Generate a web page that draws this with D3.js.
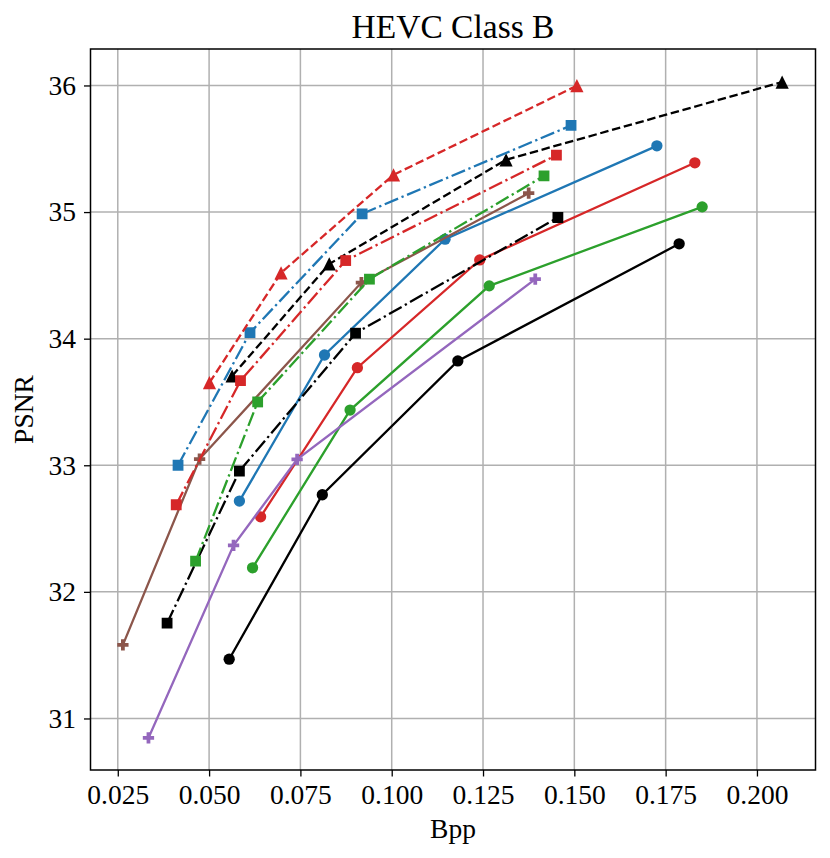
<!DOCTYPE html>
<html lang="en">
<head>
<meta charset="utf-8">
<title>HEVC Class B</title>
<script src="https://cdn.jsdelivr.net/npm/d3@7"></script>
<style>
  body { margin: 0; background: #fff; }
  text { font-family: "Liberation Serif", "Times New Roman", serif; fill: #000; }
</style>
</head>
<body>
<script>
// rate points (bpp) and quality (PSNR), one pair of arrays per curve
var bppRedTri   = [0.0501, 0.0697, 0.1005, 0.1507];
var psnrRedTri  = [33.652, 34.52, 35.294, 35.998];
var bppBlackTri  = [0.0563, 0.0829, 0.1313, 0.2069];
var psnrBlackTri = [33.705, 34.59, 35.413, 36.027];
var bppBlueSq   = [0.0415, 0.0612, 0.0919, 0.1491];
var psnrBlueSq  = [33.00, 34.047, 34.986, 35.684];
var bppRedSq    = [0.0410, 0.0586, 0.0874, 0.1451];
var psnrRedSq   = [32.688, 33.668, 34.617, 35.45];
var bppGreenSq  = [0.0463, 0.0633, 0.0939, 0.1417];
var psnrGreenSq = [32.243, 33.50, 34.47, 35.286];
var bppBlackSq  = [0.0385, 0.0583, 0.0901, 0.1455];
var psnrBlackSq = [31.753, 32.954, 34.043, 34.957];
var bppBrownP   = [0.0264, 0.0474, 0.0917, 0.1375];
var psnrBrownP  = [31.581, 33.049, 34.443, 35.149];
var bppPurpleP  = [0.0334, 0.0567, 0.0741, 0.1393];
var psnrPurpleP = [30.846, 32.367, 33.047, 34.47];
var bppBlueO    = [0.0583, 0.0816, 0.1146, 0.1726];
var psnrBlueO   = [32.717, 33.871, 34.786, 35.523];
var bppRedO     = [0.0641, 0.0906, 0.1241, 0.1830];
var psnrRedO    = [32.593, 33.771, 34.622, 35.389];
var bppGreenO   = [0.0619, 0.0886, 0.1267, 0.1850];
var psnrGreenO  = [32.19, 33.436, 34.417, 35.041];
var bppBlackO   = [0.0555, 0.0810, 0.1181, 0.1787];
var psnrBlackO  = [31.468, 32.767, 33.824, 34.749];

var xTicks = [0.025, 0.050, 0.075, 0.100, 0.125, 0.150, 0.175, 0.200];
var yTicks = [31, 32, 33, 34, 35, 36];

var series = [
  { x: bppBlackO,   y: psnrBlackO,   color: "#000000", dash: "solid",   marker: "circle" },
  { x: bppGreenO,   y: psnrGreenO,   color: "#2ca02c", dash: "solid",   marker: "circle" },
  { x: bppRedO,     y: psnrRedO,     color: "#d62728", dash: "solid",   marker: "circle" },
  { x: bppBlueO,    y: psnrBlueO,    color: "#1f77b4", dash: "solid",   marker: "circle" },
  { x: bppPurpleP,  y: psnrPurpleP,  color: "#9467bd", dash: "solid",   marker: "plus" },
  { x: bppBrownP,   y: psnrBrownP,   color: "#8c564b", dash: "solid",   marker: "plus" },
  { x: bppBlackSq,  y: psnrBlackSq,  color: "#000000", dash: "dashdot", marker: "square" },
  { x: bppGreenSq,  y: psnrGreenSq,  color: "#2ca02c", dash: "dashdot", marker: "square" },
  { x: bppBlackTri, y: psnrBlackTri, color: "#000000", dash: "dashed",  marker: "triangle" },
  { x: bppRedSq,    y: psnrRedSq,    color: "#d62728", dash: "dashdot", marker: "square" },
  { x: bppBlueSq,   y: psnrBlueSq,   color: "#1f77b4", dash: "dashdot", marker: "square" },
  { x: bppRedTri,   y: psnrRedTri,   color: "#d62728", dash: "dashed",  marker: "triangle" }
];

function drawChart() {
  var w = 830, h = 858;
  var mLeft = 90.5, mRight = 815.5, mTop = 49, mBottom = 770;
  var lw = 2.3;
  var dashes = { solid: null, dashed: "8.5,3.7", dashdot: "14.5,3.7,2.3,3.7" };

  var svg = d3.select("body").append("svg")
    .attr("width", w)
    .attr("height", h);

  var x = d3.scaleLinear().domain([0.01753, 0.21603]).range([mLeft, mRight]);
  var y = d3.scaleLinear().domain([30.593, 36.288]).range([mBottom, mTop]);

  // grid
  svg.append("g").selectAll("line")
    .data(xTicks).enter().append("line")
    .attr("x1", function(d){ return x(d); }).attr("x2", function(d){ return x(d); })
    .attr("y1", mTop).attr("y2", mBottom)
    .attr("stroke", "#b0b0b0").attr("stroke-width", 1.5);
  svg.append("g").selectAll("line")
    .data(yTicks).enter().append("line")
    .attr("y1", function(d){ return y(d); }).attr("y2", function(d){ return y(d); })
    .attr("x1", mLeft).attr("x2", mRight)
    .attr("stroke", "#b0b0b0").attr("stroke-width", 1.5);

  // clip lines to the axes box
  svg.append("clipPath").attr("id", "plotclip")
    .append("rect").attr("x", mLeft).attr("y", mTop)
    .attr("width", mRight - mLeft).attr("height", mBottom - mTop);

  var line = d3.line()
    .x(function(d){ return x(d[0]); })
    .y(function(d){ return y(d[1]); });

  function markerPath(kind) {
    var s = 11.3, r = s / 2;
    if (kind === "circle") {
      var p = d3.path(); p.arc(0, 0, r, 0, 2 * Math.PI); p.closePath();
      return p.toString();
    }
    if (kind === "square") {
      var q = 5.4;
      return "M" + (-q) + "," + (-q) + "H" + q + "V" + q + "H" + (-q) + "Z";
    }
    if (kind === "triangle") {
      var t = 6.6;
      return "M0," + (-t) + "L" + t + "," + t + "L" + (-t) + "," + t + "Z";
    }
    // filled plus, arms one third of the size
    var a = s / 6, b = s / 2;
    return "M" + (-a) + "," + (-b) + "H" + a + "V" + (-a) + "H" + b + "V" + a + "H" + a +
           "V" + b + "H" + (-a) + "V" + a + "H" + (-b) + "V" + (-a) + "H" + (-a) + "Z";
  }

  var plot = svg.append("g").attr("clip-path", "url(#plotclip)");

  series.forEach(function(s) {
    var pts = s.x.map(function(v, i){ return [v, s.y[i]]; });
    var g = plot.append("g");
    g.append("path")
      .datum(pts)
      .attr("d", line)
      .attr("fill", "none")
      .attr("stroke", s.color)
      .attr("stroke-width", lw)
      .attr("stroke-dasharray", dashes[s.dash]);
    g.selectAll("path.mk")
      .data(pts).enter().append("path")
      .attr("class", "mk")
      .attr("transform", function(d){ return "translate(" + x(d[0]) + "," + y(d[1]) + ")"; })
      .attr("d", markerPath(s.marker))
      .attr("fill", s.color);
  });

  // frame
  svg.append("rect")
    .attr("x", mLeft).attr("y", mTop)
    .attr("width", mRight - mLeft).attr("height", mBottom - mTop)
    .attr("fill", "none").attr("stroke", "#000").attr("stroke-width", 1.5);

  // x axis
  var xAxis = d3.axisBottom(x).tickValues(xTicks).tickFormat(d3.format(".3f"))
    .tickSizeOuter(0).tickSizeInner(6.5).tickPadding(8);
  var gx = svg.append("g").attr("transform", "translate(0," + mBottom + ")").call(xAxis);
  gx.select(".domain").remove();
  gx.selectAll(".tick line").attr("stroke", "#000").attr("stroke-width", 1.3);
  gx.selectAll(".tick text")
    .attr("font-family", "'Liberation Serif', serif")
    .attr("font-size", "27.5px")
    .attr("fill", "#000");

  // y axis
  var yAxis = d3.axisLeft(y).tickValues(yTicks).tickFormat(d3.format("d"))
    .tickSizeOuter(0).tickSizeInner(6.5).tickPadding(8);
  var gy = svg.append("g").attr("transform", "translate(" + mLeft + ",0)").call(yAxis);
  gy.select(".domain").remove();
  gy.selectAll(".tick line").attr("stroke", "#000").attr("stroke-width", 1.3);
  gy.selectAll(".tick text")
    .attr("font-family", "'Liberation Serif', serif")
    .attr("font-size", "27.5px")
    .attr("fill", "#000");

  // labels
  svg.append("text")
    .attr("x", (mLeft + mRight) / 2).attr("y", 37.5)
    .attr("text-anchor", "middle")
    .attr("font-size", "33.5px")
    .text("HEVC Class B");

  svg.append("text")
    .attr("x", (mLeft + mRight) / 2).attr("y", 837.5)
    .attr("text-anchor", "middle")
    .attr("font-size", "27.5px")
    .text("Bpp");

  svg.append("text")
    .attr("transform", "translate(33," + ((mTop + mBottom) / 2) + ") rotate(-90)")
    .attr("text-anchor", "middle")
    .attr("font-size", "27.5px")
    .text("PSNR");
}

drawChart();
</script>
</body>
</html>
